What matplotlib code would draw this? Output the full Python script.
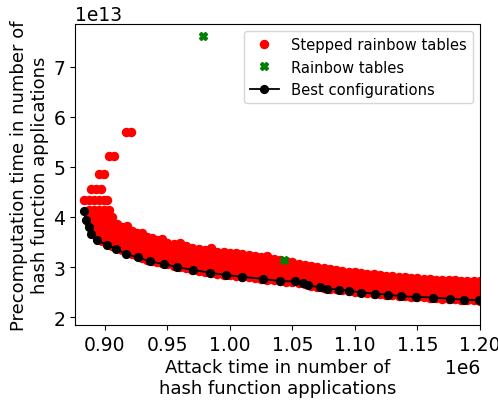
import matplotlib
matplotlib.use("Agg")
import matplotlib.pyplot as plt

# Best configurations (attack time [1e6], precomputation [1e13])
best_x = [0.8834, 0.8845, 0.8872, 0.8892, 0.8936, 0.9020, 0.9086, 0.9168, 0.9262, 0.9357,
          0.9476, 0.9575, 0.9703, 0.9840, 0.9965, 1.0100, 1.0263, 1.0401, 1.0524, 1.0583,
          1.0626, 1.0717, 1.0775, 1.0874, 1.0956, 1.1051, 1.1160, 1.1264, 1.1368, 1.1491,
          1.1623, 1.1761, 1.1869, 1.1994, 1.2100]
best_y = [4.128, 3.942, 3.795, 3.661, 3.540, 3.434, 3.365, 3.259, 3.193, 3.112,
          3.058, 2.998, 2.944, 2.884, 2.843, 2.803, 2.763, 2.717, 2.711, 2.683,
          2.631, 2.596, 2.562, 2.550, 2.522, 2.490, 2.466, 2.450, 2.416, 2.402,
          2.390, 2.365, 2.349, 2.335, 2.320]

# Rainbow tables
rain_x = [0.9786, 1.0433]
rain_y = [7.617, 3.139]

# Stepped rainbow tables: columns of (attack time, precomputation values)
red_cols = [
    (0.917, [5.70]), (0.921, [5.70]),
    (0.903, [5.21]), (0.907, [5.21]),
    (0.895, [4.85]), (0.899, [4.85]),
    (0.889, [4.55]), (0.893, [4.55]), (0.897, [4.55]),
    (0.883, [4.33]), (0.887, [4.33, 4.13, 3.85, 3.95, 4.05]),
    (0.891, [4.33, 4.13]), (0.895, [4.33, 4.13]), (0.899, [4.33, 4.13]),
    (0.902, [4.33]), (0.903, [4.13]),
    (0.890, [3.70, 3.80, 3.92, 4.02]),
    (0.894, [3.58, 3.68, 3.80, 3.92, 4.02]),
    (0.898, [3.52, 3.62, 3.74, 3.86, 3.98]),
    (0.902, [3.46, 3.58, 3.70, 3.82, 3.94, 4.03]),
    (0.906, [3.42, 3.54, 3.66, 3.78, 3.90, 4.00]),
    (0.910, [3.38, 3.50, 3.62, 3.74, 3.85]),
    (0.914, [3.33, 3.45, 3.57, 3.69, 3.80]),
    (0.918, [3.28, 3.40, 3.52, 3.64, 3.76, 3.81]),
    (0.922, [3.25, 3.37, 3.49, 3.61, 3.72]),
    (0.926, [3.21, 3.33, 3.45, 3.57, 3.68]),
    (0.930, [3.18, 3.30, 3.42, 3.54, 3.68]),
    (0.934, [3.14, 3.26, 3.38, 3.50, 3.60]),
    (0.938, [3.12, 3.24, 3.36, 3.48, 3.58]),
    (0.942, [3.10, 3.21, 3.33, 3.45, 3.54]),
    (0.946, [3.08, 3.19, 3.31, 3.43, 3.56]),
    (0.950, [3.06, 3.17, 3.29, 3.40, 3.48]),
    (0.955, [3.03, 3.14, 3.26, 3.37, 3.46]),
    (0.960, [3.00, 3.12, 3.24, 3.36, 3.48]),
    (0.965, [2.98, 3.09, 3.21, 3.32, 3.42]),
    (0.970, [2.95, 3.06, 3.18, 3.29, 3.38]),
    (0.975, [2.93, 3.04, 3.16, 3.27, 3.36]),
    (0.980, [2.91, 3.02, 3.14, 3.25, 3.34]),
    (0.985, [2.89, 3.00, 3.12, 3.23, 3.37]),
    (0.990, [2.87, 2.98, 3.10, 3.21, 3.30]),
    (0.995, [2.85, 2.96, 3.08, 3.19, 3.29]),
    (1.000, [2.84, 2.95, 3.06, 3.17, 3.28]),
    (1.005, [2.82, 2.93, 3.04, 3.15, 3.28]),
    (1.010, [2.81, 2.92, 3.03, 3.14, 3.25]),
    (1.015, [2.80, 2.91, 3.02, 3.13, 3.23]),
    (1.020, [2.78, 2.89, 3.00, 3.11, 3.21]),
    (1.025, [2.77, 2.88, 2.99, 3.10, 3.20]),
    (1.030, [2.75, 2.86, 2.97, 3.08, 3.22]),
    (1.035, [2.74, 2.85, 2.96, 3.07, 3.17]),
    (1.040, [2.72, 2.83, 2.94, 3.05, 3.15]),
    (1.045, [2.71, 2.82, 2.93, 3.03, 3.12]),
    (1.050, [2.70, 2.81, 2.91, 3.01, 3.10]),
    (1.055, [2.68, 2.79, 2.89, 2.99, 3.07]),
    (1.060, [2.66, 2.77, 2.87, 2.97, 3.04]),
    (1.065, [2.63, 2.74, 2.85, 2.95, 3.02]),
    (1.070, [2.61, 2.72, 2.83, 2.93, 3.00]),
    (1.075, [2.59, 2.70, 2.81, 2.91, 2.98]),
    (1.080, [2.57, 2.68, 2.79, 2.89, 2.97]),
    (1.085, [2.56, 2.67, 2.77, 2.87, 2.94]),
    (1.090, [2.54, 2.65, 2.75, 2.85, 2.93]),
    (1.095, [2.53, 2.64, 2.74, 2.84, 2.91]),
    (1.100, [2.51, 2.62, 2.72, 2.82, 2.90]),
    (1.105, [2.50, 2.60, 2.70, 2.80, 2.88]),
    (1.110, [2.49, 2.59, 2.69, 2.79, 2.87]),
    (1.115, [2.47, 2.57, 2.67, 2.77, 2.86]),
    (1.120, [2.46, 2.56, 2.66, 2.76, 2.85]),
    (1.125, [2.45, 2.55, 2.65, 2.75, 2.83]),
    (1.130, [2.44, 2.54, 2.64, 2.74, 2.82]),
    (1.135, [2.43, 2.53, 2.63, 2.72, 2.81]),
    (1.140, [2.42, 2.52, 2.62, 2.71, 2.80]),
    (1.145, [2.41, 2.51, 2.61, 2.70, 2.79]),
    (1.150, [2.40, 2.50, 2.60, 2.69, 2.78]),
    (1.155, [2.40, 2.49, 2.59, 2.68, 2.77]),
    (1.160, [2.39, 2.48, 2.58, 2.67, 2.76]),
    (1.165, [2.38, 2.47, 2.57, 2.66, 2.75]),
    (1.170, [2.37, 2.46, 2.56, 2.65, 2.75]),
    (1.175, [2.37, 2.46, 2.55, 2.64, 2.74]),
    (1.180, [2.36, 2.45, 2.54, 2.63, 2.74]),
    (1.185, [2.35, 2.44, 2.53, 2.62, 2.73]),
    (1.190, [2.35, 2.44, 2.53, 2.62, 2.72]),
    (1.195, [2.34, 2.43, 2.52, 2.61, 2.72]),
    (1.200, [2.33, 2.42, 2.51, 2.60, 2.72]),
]

red_x = [cx * 1e6 for cx, ys in red_cols for _ in ys]
red_y = [y * 1e13 for cx, ys in red_cols for y in ys]

fig = plt.figure(figsize=(4.98, 4.02), dpi=100)
ax = fig.add_axes([0.1506, 0.189, 0.813, 0.749])

ax.plot(red_x, red_y, 'o', color='#ff0000', markersize=5.8, linestyle='none',
        label='Stepped rainbow tables')
ax.plot([v * 1e6 for v in rain_x], [v * 1e13 for v in rain_y], 'X', color='green',
        markersize=5.5, linestyle='none', label='Rainbow tables')
ax.plot([v * 1e6 for v in best_x], [v * 1e13 for v in best_y], '-o', color='black',
        markersize=5.6, linewidth=1.3, label='Best configurations')

ax.set_xlim(0.876e6, 1.20e6)
ax.set_ylim(1.84e13, 7.86e13)
ax.set_xticks([0.90e6, 0.95e6, 1.00e6, 1.05e6, 1.10e6, 1.15e6, 1.20e6])
ax.set_yticks([2e13, 3e13, 4e13, 5e13, 6e13, 7e13])
ax.tick_params(labelsize=13.5)
ax.xaxis.get_offset_text().set_fontsize(13.5)
ax.yaxis.get_offset_text().set_fontsize(13.5)

ax.set_xlabel('Attack time in number of\nhash function applications', fontsize=13,
              labelpad=3)
ax.set_ylabel('Precomputation time in number of\nhash function applications',
              fontsize=13, labelpad=3)

ax.legend(loc='upper right', fontsize=10.6)

fig.savefig('out.png', dpi=100)
